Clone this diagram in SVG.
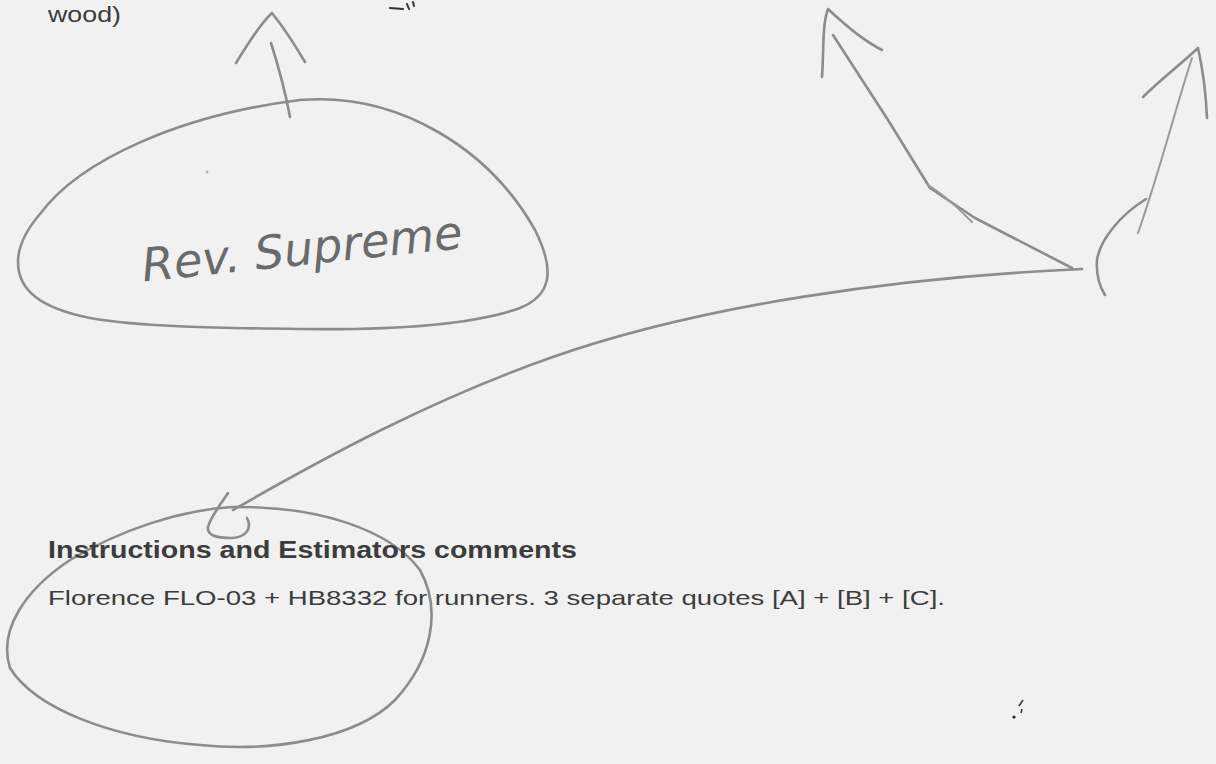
<svg xmlns="http://www.w3.org/2000/svg" width="1216" height="764" viewBox="0 0 1216 764">
<style>
.pen{fill:none;stroke:#8c8c8c;stroke-width:2.6;stroke-linecap:round;stroke-linejoin:round}
.thin{fill:none;stroke:#9a9a9a;stroke-width:2;stroke-linecap:round}
.print{font-family:"Liberation Sans","DejaVu Sans",sans-serif;fill:#3c3c3c}
.hand{font-family:"DejaVu Sans","Liberation Sans",sans-serif;fill:#6a6a6a;font-style:italic}
</style>
<rect width="1216" height="764" fill="#f1f1f1"/>
<g id="top-text">
<text class="print" x="48" y="22" font-size="22" textLength="73" lengthAdjust="spacingAndGlyphs">wood)</text>
<path d="M390 8 L403 9 M407 4 L409 9 M413 2 L414 6" stroke="#333" stroke-width="2" fill="none" stroke-linecap="round"/>
</g>
<g id="rev-supreme">
<path class="pen" d="M40 214 C80 160 180 115 300 100 C400 92 490 150 535 230 C555 270 552 295 520 308 C470 326 380 330 300 329 C220 328 140 327 90 318 C40 308 18 290 18 262 C18 245 28 228 40 214 Z"/>
<text class="hand" x="140" y="265" font-size="46" textLength="322" lengthAdjust="spacingAndGlyphs" transform="rotate(-6 300 240)">Rev. Supreme</text>
<circle cx="207" cy="172" r="1.5" fill="#c8b89a"/>
</g>
<g id="bottom-circle">
<path class="pen" d="M233 507 C320 506 390 530 420 570 C442 610 432 660 395 700 C355 740 270 752 200 745 C110 738 35 708 10 668 C-2 630 25 590 70 560 C120 530 180 510 233 507 Z"/>
</g>
<g id="connectors">
<path class="pen" d="M290 117 C285 90 278 65 271 43"/>
<path class="pen" d="M236 63 C250 40 262 22 272 13 C284 28 295 45 305 62"/>
<path class="pen" d="M1082 269 C900 277 700 305 550 358 C430 400 320 460 233 510"/>
<path class="pen" d="M228 493 C220 505 210 518 208 527 C207 535 215 538 232 538 C247 537 252 528 247 518"/>
<path class="pen" d="M1072 268 L975 218 L930 188 L888 120 L833 35"/>
<path class="thin" d="M928 185 C945 195 960 210 972 222"/>
<path class="pen" d="M822 77 C824 50 822 25 828 9 C845 25 862 40 882 50"/>
<path class="thin" d="M1138 233 C1160 170 1175 110 1192 58"/>
<path class="pen" d="M1143 97 C1160 80 1180 65 1198 48 C1203 70 1206 95 1207 118"/>
<path class="pen" d="M1146 199 C1120 215 1100 240 1097 260 C1096 275 1100 287 1105 295"/>
</g>
<g id="comments">
<text class="print" x="48" y="558" font-size="23" font-weight="bold" textLength="529" lengthAdjust="spacingAndGlyphs">Instructions and Estimators comments</text>
<text class="print" x="48" y="605" font-size="21" textLength="897" lengthAdjust="spacingAndGlyphs">Florence FLO-03 + HB8332 for runners. 3 separate quotes [A] + [B] + [C].</text>
</g>
<g id="marks">
<path d="M1019 706 L1023 700 M1021 713 L1022 709" stroke="#333" stroke-width="1.5" fill="none"/>
<circle cx="1014" cy="717" r="1.6" fill="#222"/>
</g>
</svg>
